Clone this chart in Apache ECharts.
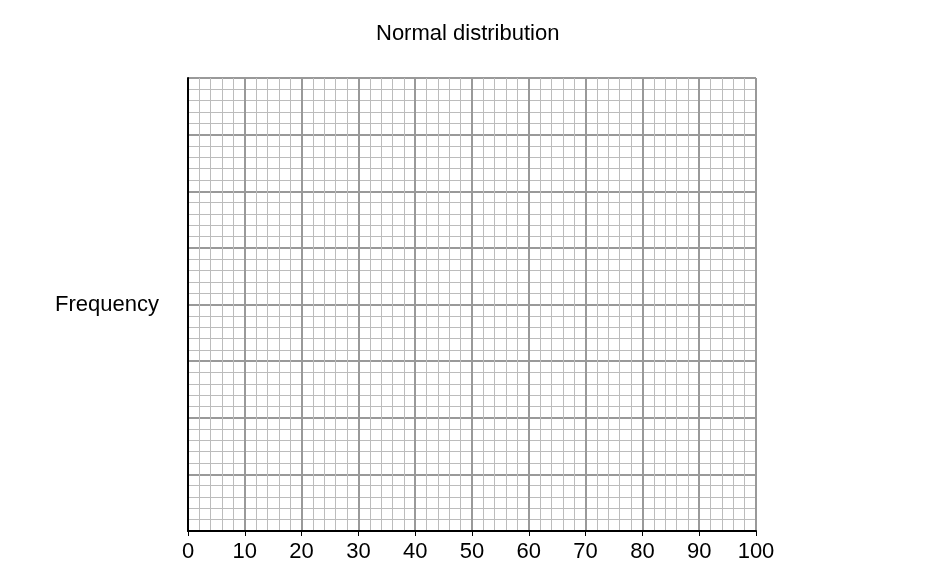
<!DOCTYPE html>
<html>
<head>
<meta charset="utf-8">
<script src="https://cdn.jsdelivr.net/npm/echarts@6/dist/echarts.min.js"></script>
<style>
  html, body { margin: 0; padding: 0; background: #fff; }
  #chart { width: 949px; height: 574px; }
</style>
</head>
<body>
<div id="chart"></div>
<script>
const titleText = 'Normal distribution'
const yName = 'Frequency'
const xMin = 0, xMax = 100, xStep = 10
const yMin = 0, yMax = 8, yStep = 1
// empty graph paper: no plotted data
const values = []

const chart = echarts.init(document.getElementById('chart'))
const font = 'Liberation Sans, Arial, sans-serif'

chart.setOption({
  animation: false,
  title: {
    text: titleText,
    left: 371,
    top: 18,
    textStyle: { fontFamily: font, fontSize: 22, fontWeight: 'normal', color: '#000' },
  },
  grid: { left: 188, right: 193, top: 78, bottom: 43 },
  xAxis: {
    type: 'value',
    min: xMin, max: xMax, interval: xStep,
    axisLine: { show: true, onZero: false, lineStyle: { color: '#000', width: 2 } },
    axisTick: { show: true, length: 5, lineStyle: { color: '#000' } },
    axisLabel: { margin: 10, fontFamily: font, fontSize: 22, color: '#000' },
    splitLine: { show: true, lineStyle: { color: '#999', width: 2 } },
    minorTick: { show: false, splitNumber: 5 },
    minorSplitLine: { show: true, lineStyle: { color: '#bcbcbc', width: 1 } },
  },
  yAxis: {
    type: 'value',
    name: yName,
    nameLocation: 'middle',
    nameRotate: 0,
    nameGap: 29,
    nameTextStyle: { fontFamily: font, fontSize: 22, color: '#000' },
    min: yMin, max: yMax, interval: yStep,
    axisLine: { show: true, onZero: false, lineStyle: { color: '#000', width: 2 } },
    axisTick: { show: false },
    axisLabel: { show: false },
    splitLine: { show: true, lineStyle: { color: '#999', width: 2 } },
    minorTick: { show: false, splitNumber: 5 },
    minorSplitLine: { show: true, lineStyle: { color: '#bcbcbc', width: 1 } },
  },
  series: [{ type: 'line', data: values, showSymbol: false }],
})
</script>
</body>
</html>
